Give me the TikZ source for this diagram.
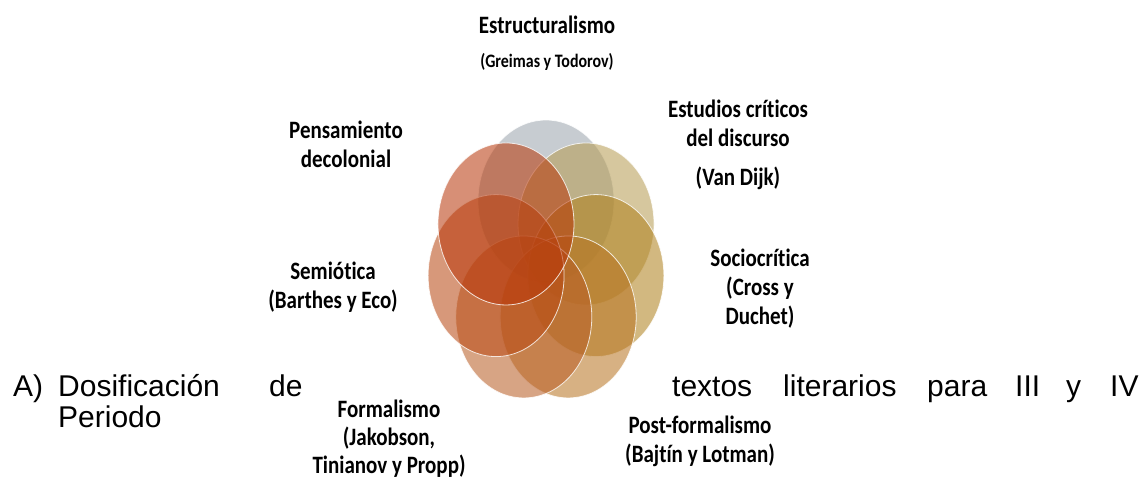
\documentclass[tikz,border=0pt]{standalone}
\usepackage{fontspec}
\setmainfont{Liberation Sans}
\newfontfamily\lblfont[FakeStretch=0.84, Ligatures=NoCommon]{Carlito}

\definecolor{cEstr}{RGB}{155,164,173}
\definecolor{cEstu}{RGB}{182,155,82}
\definecolor{cSoci}{RGB}{175,128,28}
\definecolor{cPost}{RGB}{184,116,34}
\definecolor{cForm}{RGB}{184,92,36}
\definecolor{cSemi}{RGB}{184,72,18}
\definecolor{cPens}{RGB}{184,56,10}

\begin{document}
\begin{tikzpicture}[
  x=1pt, y=-1pt,
  every node/.style={inner sep=0pt},
  petal/.style={draw=white, line width=0.8pt, draw opacity=0.8, fill opacity=0.56},
  lbl/.style={font=\lblfont\bfseries\fontsize{25}{29}\selectfont, align=center},
  sublbl/.style={font=\lblfont\bfseries\fontsize{19}{23}\selectfont},
  word/.style={font=\fontsize{30}{34}\selectfont, anchor=base west}
]
\useasboundingbox (0,0) rectangle (1144,479);

% seven petals, clockwise from the top
\foreach \a/\c in {90/cEstr, 38.57/cEstu, -12.86/cSoci, -64.29/cPost,
                   244.29/cForm, 192.86/cSemi, 141.43/cPens}
  \draw[petal, fill=\c] ({546+51.2*cos(\a)},{262-61*sin(\a)}) ellipse (68 and 81);

% labels round the rosette
\node[lbl] (estr) at (547,25) {Estructuralismo};
\node[sublbl] (estrA) at (547,62) {(Greimas y Todorov)};
\node[lbl] (estu) at (738,123) {Estudios críticos\\del discurso};
\node[lbl] (estuA) at (738,178) {(Van Dijk)};
\node[lbl] (soci) at (760,289) {Sociocrítica\\(Cross y\\Duchet)};
\node[lbl] (post) at (700,441) {Post-formalismo\\(Bajtín y Lotman)};
\node[lbl, font=\lblfont\bfseries\fontsize{25}{28}\selectfont] (form) at (389,439) {Formalismo\\(Jakobson,\\Tinianov y Propp)};
\node[lbl] (semi) at (333,287) {Semiótica\\(Barthes y Eco)};
\node[lbl] (pens) at (346,144) {Pensamiento\\decolonial};

% the paragraph that runs round the picture
\node[word] (wA) at (13,396) {A)};
\node[word] (wDos) at (58,396) {Dosificación};
\node[word] (wDe) at (269,396) {de};
\node[word] (wTex) at (672,396) {textos};
\node[word] (wLit) at (783,396) {literarios};
\node[word] (wPara) at (927,396) {para};
\node[word] (wIII) at (1015,396) {III};
\node[word] (wY) at (1066,396) {y};
\node[word] (wIV) at (1110,396) {IV};
\node[word] (wPer) at (58,427) {Periodo};
\end{tikzpicture}
\end{document}
